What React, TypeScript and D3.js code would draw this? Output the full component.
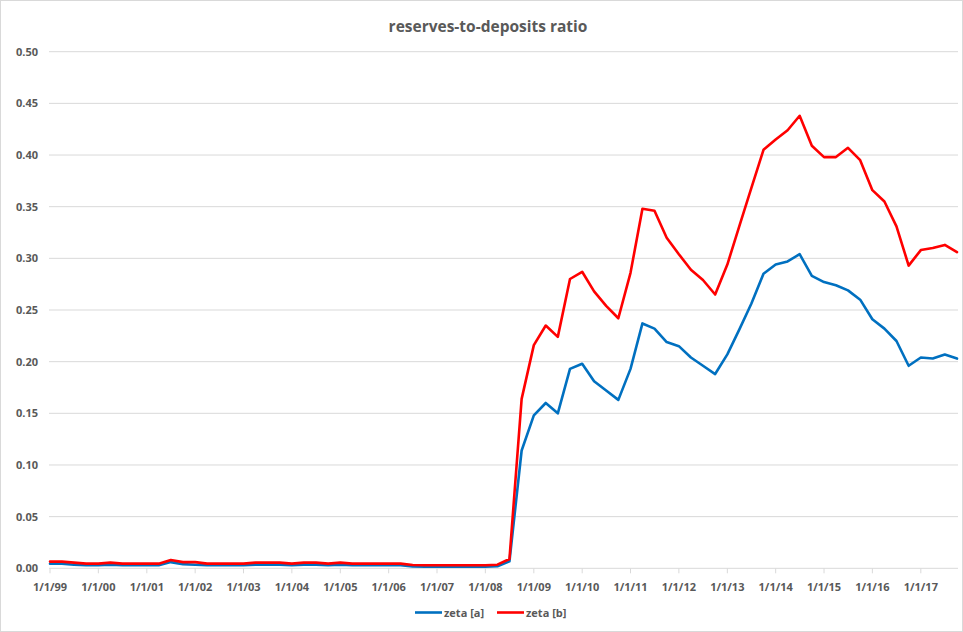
import React from "react";
import * as d3 from "d3";

const W = 963;
const H = 632;

const title = "reserves-to-deposits ratio";
const seriesNames = ["zeta [a]", "zeta [b]"];
const seriesColors = ["#0070C0", "#FF0000"];

const startYear = 1999;
const quarterCount = 76; // 1999Q1 .. 2017Q4

const zetaA = [
  0.0045, 0.0045, 0.0035, 0.003, 0.003, 0.0035, 0.003, 0.003, 0.003, 0.003,
  0.006, 0.004, 0.0035, 0.003, 0.003, 0.003, 0.003, 0.0035, 0.0035, 0.0035,
  0.003, 0.0035, 0.0035, 0.003, 0.0035, 0.003, 0.003, 0.003, 0.003, 0.003,
  0.0018, 0.0016, 0.0016, 0.0016, 0.0016, 0.0016, 0.0016, 0.002, 0.0068, 0.114,
  0.148, 0.16, 0.15, 0.193, 0.198, 0.181, 0.172, 0.163, 0.193, 0.237,
  0.232, 0.219, 0.215, 0.204, 0.196, 0.188, 0.207, 0.231, 0.256, 0.285,
  0.294, 0.297, 0.304, 0.283, 0.277, 0.274, 0.269, 0.26, 0.241, 0.232,
  0.22, 0.196, 0.204, 0.203, 0.207, 0.203,
];

const zetaB = [
  0.0065, 0.0065, 0.0055, 0.0045, 0.0045, 0.0055, 0.0045, 0.0045, 0.0045, 0.0045,
  0.008, 0.006, 0.006, 0.0045, 0.0045, 0.0045, 0.0045, 0.0055, 0.0055, 0.0055,
  0.0045, 0.0055, 0.0055, 0.0045, 0.0055, 0.0045, 0.0045, 0.0045, 0.0045, 0.0045,
  0.0032, 0.003, 0.003, 0.003, 0.003, 0.003, 0.003, 0.0035, 0.009, 0.164,
  0.216, 0.235, 0.224, 0.28, 0.287, 0.268, 0.254, 0.242, 0.286, 0.348,
  0.346, 0.32, 0.304, 0.289, 0.279, 0.265, 0.294, 0.331, 0.368, 0.405,
  0.415, 0.424, 0.438, 0.409, 0.398, 0.398, 0.407, 0.395, 0.366, 0.355,
  0.331, 0.293, 0.308, 0.31, 0.313, 0.306,
];

const yTicks = [0, 0.05, 0.1, 0.15, 0.2, 0.25, 0.3, 0.35, 0.4, 0.45, 0.5];
const xTickLabels = [
  "1/1/99", "1/1/00", "1/1/01", "1/1/02", "1/1/03", "1/1/04", "1/1/05",
  "1/1/06", "1/1/07", "1/1/08", "1/1/09", "1/1/10", "1/1/11", "1/1/12",
  "1/1/13", "1/1/14", "1/1/15", "1/1/16", "1/1/17",
];

const FONT = "'Open Sans', 'Liberation Sans', sans-serif";
const TEXT_COLOR = "#595959";
const GRID = "#d9d9d9";

export default function App() {
  const dates = d3.range(quarterCount).map(
    (i) => new Date(startYear + Math.floor(i / 4), (i % 4) * 3, 1)
  );
  const tickDates = xTickLabels.map((_, i) => new Date(startYear + i, 0, 1));

  const plotLeft = 50;
  const plotRight = 957;
  const x = d3
    .scaleTime()
    .domain([dates[0], dates[dates.length - 1]])
    .range([plotLeft, plotRight]);
  const y = d3.scaleLinear().domain([0, 0.5]).range([568.3, 51.7]);

  const line = d3
    .line<number>()
    .x((_, i) => x(dates[i]))
    .y((d) => y(d));

  const series = [zetaA, zetaB];

  return (
    <svg
      width={W}
      height={H}
      style={{ position: "absolute", left: 0, top: 0, background: "#fff" }}
    >
      <rect x={0.5} y={0.5} width={W - 1} height={H - 1} fill="#fff" stroke={GRID} />
      <text
        x={488}
        y={32}
        textAnchor="middle"
        fontFamily={FONT}
        fontWeight="bold"
        fontSize={15.5}
        fill={TEXT_COLOR}
      >
        {title}
      </text>
      {yTicks.map((t) => (
        <g key={t}>
          {t > 0 && (
            <line
              x1={plotLeft - 1}
              x2={plotRight + 1}
              y1={y(t)}
              y2={y(t)}
              stroke={GRID}
              strokeWidth={1}
            />
          )}
          <text
            x={38}
            y={y(t) + 4}
            textAnchor="end"
            fontFamily={FONT}
            fontWeight="bold"
            fontSize={11}
            fill={TEXT_COLOR}
          >
            {t.toFixed(2)}
          </text>
        </g>
      ))}
      <line
        x1={plotLeft - 1}
        x2={plotRight + 1}
        y1={y(0)}
        y2={y(0)}
        stroke={GRID}
        strokeWidth={1}
      />
      {tickDates.map((d, i) => (
        <g key={i}>
          <line x1={x(d)} x2={x(d)} y1={y(0)} y2={y(0) + 5} stroke={GRID} />
          <text
            x={x(d)}
            y={590.5}
            textAnchor="middle"
            fontFamily={FONT}
            fontWeight="bold"
            fontSize={11}
            fill={TEXT_COLOR}
          >
            {xTickLabels[i]}
          </text>
        </g>
      ))}
      {series.map((s, k) => (
        <path
          key={k}
          d={line(s) || ""}
          fill="none"
          stroke={seriesColors[k]}
          strokeWidth={2.6}
          strokeLinejoin="round"
          strokeLinecap="round"
        />
      ))}
      {seriesNames.map((name, k) => {
        const lx = k === 0 ? 415 : 497;
        return (
          <g key={name}>
            <line
              x1={lx}
              x2={lx + 27}
              y1={612.5}
              y2={612.5}
              stroke={seriesColors[k]}
              strokeWidth={2.6}
            />
            <text
              x={lx + 29}
              y={616.5}
              fontFamily={FONT}
              fontWeight="bold"
              fontSize={11}
              fill={TEXT_COLOR}
            >
              {name}
            </text>
          </g>
        );
      })}
    </svg>
  );
}
